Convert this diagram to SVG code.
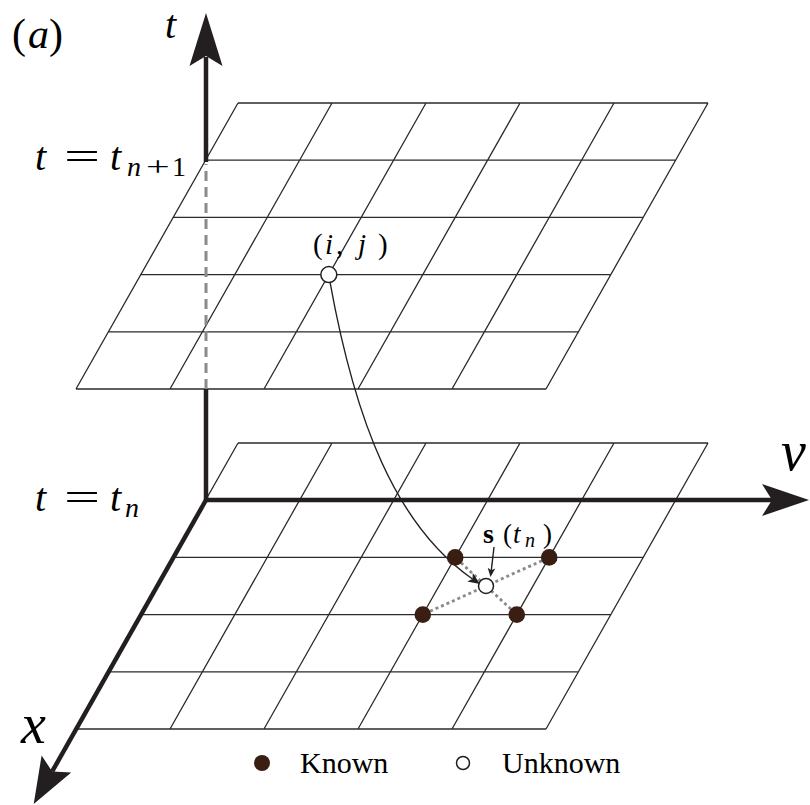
<svg xmlns="http://www.w3.org/2000/svg" width="810" height="805" viewBox="0 0 810 805">
<rect width="810" height="805" fill="#fff"/>
<g id="top-grid">
<path fill="none" stroke="#2b2b2b" stroke-width="1.3" d="M238 103H708M205.6 160.2H675.6M173.2 217.4H643.2M140.8 274.6H610.8M108.4 331.8H578.4M76 389H546M238 103L76 389M332 103L170 389M426 103L264 389M520 103L358 389M614 103L452 389M708 103L546 389"/>
</g>
<g id="bottom-grid">
<path fill="none" stroke="#2b2b2b" stroke-width="1.3" d="M238 443H708M205.6 500.2H675.6M173.2 557.4H643.2M140.8 614.6H610.8M108.4 671.8H578.4M76 729H546M238 443L76 729M332 443L170 729M426 443L264 729M520 443L358 729M614 443L452 729M708 443L546 729"/>
</g>
<g id="axes">
<path fill="none" stroke="#231f20" stroke-width="4.5" d="M206 500V389M206 162V57"/>
<path fill="none" stroke="#231f20" stroke-width="4.5" d="M206 500H772"/>
<path fill="none" stroke="#231f20" stroke-width="4.5" d="M206 500L52.2 771.4"/>
<path fill="none" stroke="#8a8a8a" stroke-width="3" stroke-dasharray="10 6" d="M206 389V164"/>
<polygon fill="#231f20" points="206,13 189.5,66 206,56 222.5,66"/>
<polygon fill="#231f20" points="809,500 762,484 772,500 762,516"/>
<polygon fill="#231f20" points="33.7,804 41.6,755.6 52.2,771.4 71.2,772.4"/>
</g>
<g id="connectors">
<path fill="none" stroke="#8a8a8a" stroke-width="2.8" stroke-dasharray="3 3" d="M461 562.8L480.5 580.9M541.9 560.7L492.8 582.9M430.1 611.3L479.2 589.1M510.9 609.1L491.5 591.1"/>
<path fill="none" stroke="#231f20" stroke-width="1.4" d="M330 282C355 420 395 525 472.5 579"/>
<polygon fill="#231f20" points="480,584 467.2,581.5 472.5,579 472.8,573.1"/>
<path fill="none" stroke="#231f20" stroke-width="1.4" d="M494 547L491.3 570.3"/>
<polygon fill="#231f20" points="490.5,577 487.7,567.7 491.3,570.3 495.3,568.5"/>
</g>
<g id="node-ij"><circle fill="#fff" stroke="#231f20" stroke-width="1.5" cx="328.8" cy="274.6" r="8"/></g>
<g id="node-unknown"><circle fill="#fff" stroke="#231f20" stroke-width="1.5" cx="486" cy="586" r="7.5"/></g>
<g id="node-known">
<circle fill="#3b1e12" cx="455.2" cy="557.4" r="8.3"/>
<circle fill="#3b1e12" cx="549.2" cy="557.4" r="8.3"/>
<circle fill="#3b1e12" cx="422.8" cy="614.6" r="8.3"/>
<circle fill="#3b1e12" cx="516.8" cy="614.6" r="8.3"/>
</g>
<g id="legend-marks">
<circle fill="#3b1e12" cx="262" cy="763" r="8"/>
<circle fill="#fff" stroke="#231f20" stroke-width="1.5" cx="463" cy="763" r="6.5"/>
</g>
<text x="12" y="48" font-size="42" font-family="Liberation Serif">(</text>
<text x="28" y="48" font-size="42" font-family="Liberation Serif" font-style="italic">a</text>
<text x="49" y="48" font-size="42" font-family="Liberation Serif">)</text>
<text x="165" y="38" font-size="40" font-family="Liberation Serif" font-style="italic">t</text>
<text x="35" y="170" font-size="40" font-family="Liberation Serif" font-style="italic">t</text>
<text font-size="40" font-family="Liberation Serif" transform="translate(64,170) scale(1.6,1)">=</text>
<text x="110" y="170" font-size="40" font-family="Liberation Serif" font-style="italic">t</text>
<text x="127" y="176" font-size="28" font-family="Liberation Serif" font-style="italic">n</text>
<text font-size="28" font-family="Liberation Serif" transform="translate(146,176) scale(1.5,1)">+</text>
<text x="172" y="176" font-size="28" font-family="Liberation Serif">1</text>
<text x="35" y="511" font-size="40" font-family="Liberation Serif" font-style="italic">t</text>
<text font-size="40" font-family="Liberation Serif" transform="translate(64,511) scale(1.6,1)">=</text>
<text x="110" y="511" font-size="40" font-family="Liberation Serif" font-style="italic">t</text>
<text x="125" y="517" font-size="28" font-family="Liberation Serif" font-style="italic">n</text>
<text x="781" y="470" font-size="56" font-family="Liberation Serif" font-style="italic">v</text>
<text x="21" y="743" font-size="56" font-family="Liberation Serif" font-style="italic">x</text>
<text x="313" y="254" font-size="29" font-family="Liberation Serif">(</text>
<text x="325" y="254" font-size="29" font-family="Liberation Serif" font-style="italic">i</text>
<text x="336" y="254" font-size="29" font-family="Liberation Serif">,</text>
<text x="358" y="254" font-size="29" font-family="Liberation Serif" font-style="italic">j</text>
<text x="378" y="254" font-size="29" font-family="Liberation Serif">)</text>
<text x="483" y="543" font-size="28" font-family="Liberation Serif" font-weight="bold">s</text>
<text x="503" y="543" font-size="27" font-family="Liberation Serif">(</text>
<text x="513" y="543" font-size="27" font-family="Liberation Serif" font-style="italic">t</text>
<text x="525" y="547" font-size="20" font-family="Liberation Serif" font-style="italic">n</text>
<text x="543" y="543" font-size="27" font-family="Liberation Serif">)</text>
<text x="300" y="773" font-size="30" font-family="Liberation Serif">Known</text>
<text x="502" y="773" font-size="30" font-family="Liberation Serif">Unknown</text>
</svg>
